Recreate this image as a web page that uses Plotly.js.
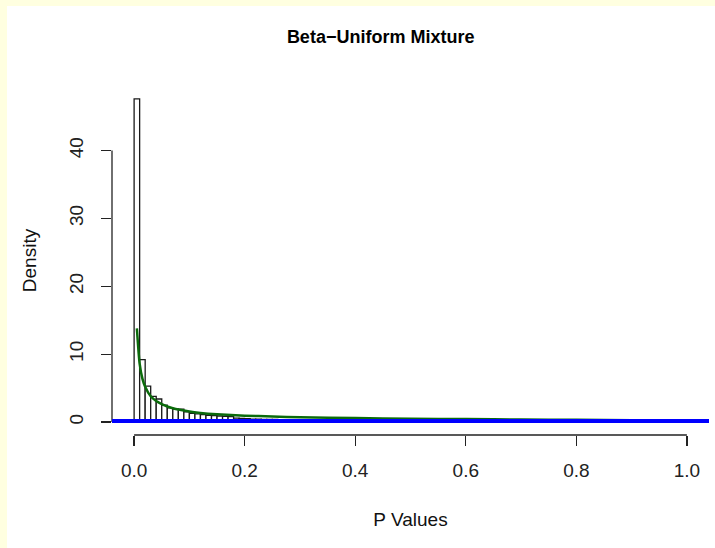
<!DOCTYPE html>
<html>
<head>
<meta charset="utf-8">
<script src="https://cdn.plot.ly/plotly-3.0.1.min.js"></script>
<style>
  html, body { margin: 0; padding: 0; background: #FFFFE0; width: 715px; height: 548px; overflow: hidden; }
  #chart { position: absolute; left: 7px; top: 6px; width: 708px; height: 542px; background: #fff; }
</style>
</head>
<body>
<div id="chart"></div>
<script>
// ---- data ----
const binWidth = 0.01;
const histDensity = [
  47.6, 9.2, 5.3, 3.8, 3.4, 2.5, 2.1, 1.9, 1.9, 1.5,
  1.3, 1.2, 1.1, 1.0, 0.95, 0.9, 0.85, 0.8, 0.6, 0.55,
  0.5, 0.45, 0.45, 0.4, 0.4, 0.38, 0.36, 0.35, 0.35, 0.34,
  0.33, 0.33, 0.32, 0.32, 0.31, 0.3, 0.3, 0.3, 0.29, 0.29,
  0.28, 0.28, 0.28, 0.27, 0.27, 0.27, 0.26, 0.26, 0.26, 0.25,
  0.25, 0.25, 0.25, 0.24, 0.24, 0.24, 0.24, 0.23, 0.23, 0.23,
  0.23, 0.22, 0.22, 0.22, 0.22, 0.22, 0.21, 0.21, 0.21, 0.21,
  0.21, 0.2, 0.2, 0.2, 0.2, 0.2, 0.2, 0.19, 0.19, 0.19,
  0.19, 0.19, 0.19, 0.18, 0.18, 0.18, 0.18, 0.18, 0.18, 0.18,
  0.17, 0.17, 0.17, 0.17, 0.17, 0.17, 0.17, 0.16, 0.16, 0.16
];
const fitP = [0.005, 0.01, 0.015, 0.02, 0.03, 0.04, 0.05, 0.06, 0.07, 0.08, 0.1, 0.12, 0.15, 0.2, 0.25, 0.3, 0.4, 0.5, 0.6, 0.7, 0.8, 0.9, 1.0];
const fitDensity = [13.8, 8.6, 6.4, 5.2, 3.8, 3.1, 2.65, 2.3, 2.05, 1.85, 1.55, 1.35, 1.15, 0.95, 0.82, 0.72, 0.6, 0.5, 0.44, 0.38, 0.33, 0.28, 0.25];
const blueLevel = 0.15;
const xTicks = [0, 0.2, 0.4, 0.6, 0.8, 1.0];
const xTickLabels = ["0.0", "0.2", "0.4", "0.6", "0.8", "1.0"];
const yTicks = [0, 10, 20, 30, 40];
const yTickLabels = ["0", "10", "20", "30", "40"];
const titleText = "Beta\u2212Uniform Mixture";
const xTitle = "P Values";
const yTitle = "Density";

// ---- build ----
const binMids = histDensity.map((_, i) => (i + 0.5) * binWidth);
const axisColor = "#222";
const fontFam = "Liberation Sans, Arial, sans-serif";

const traces = [
  {
    type: "bar", x: binMids, y: histDensity, width: binWidth,
    marker: { color: "rgba(255,255,255,1)", line: { color: "#1a1a1a", width: 1.3 } },
    hoverinfo: "skip"
  },
  {
    type: "scatter", mode: "lines", x: fitP, y: fitDensity,
    line: { color: "#0b6b0b", width: 2.5, shape: "spline", smoothing: 0.6 },
    hoverinfo: "skip"
  }
];

const layout = {
  width: 708, height: 542,
  margin: { l: 105, r: 6, t: 80, b: 113 },
  paper_bgcolor: "#ffffff", plot_bgcolor: "#ffffff",
  showlegend: false,
  bargap: 0,
  title: {
    text: "<b>" + titleText + "</b>",
    font: { family: fontFam, size: 18, color: "#000" },
    x: 0.45, xanchor: "center", xref: "paper",
    y: 1 - 31 / 542, yanchor: "middle", yref: "container"
  },
  xaxis: {
    range: [-0.04, 1.04], showgrid: false, zeroline: false, showline: false,
    tickmode: "array", tickvals: xTicks, ticktext: xTickLabels,
    ticks: "outside", ticklen: 10, tickwidth: 1.3, tickcolor: axisColor,
    tickfont: { family: fontFam, size: 19, color: "#222" },
    ticklabelstandoff: 8,
    title: { text: xTitle, font: { family: fontFam, size: 19, color: "#111" }, standoff: 32 }
  },
  yaxis: {
    range: [-1.9, 49.5], showgrid: false, zeroline: false, showline: false,
    tickmode: "array", tickvals: yTicks, ticktext: yTickLabels,
    ticks: "outside", ticklen: 10, tickwidth: 1.3, tickcolor: axisColor,
    tickangle: -90,
    tickfont: { family: fontFam, size: 19, color: "#222" },
    ticklabelstandoff: 10,
    title: { text: yTitle, font: { family: fontFam, size: 19, color: "#111" }, standoff: 24 }
  },
  shapes: [
    { type: "line", xref: "paper", yref: "y", x0: 0, x1: 0, y0: yTicks[0], y1: yTicks[yTicks.length - 1],
      line: { color: axisColor, width: 1.3 } },
    { type: "line", xref: "x", yref: "paper", x0: xTicks[0], x1: xTicks[xTicks.length - 1], y0: 0, y1: 0,
      line: { color: axisColor, width: 1.3 } },
    { type: "line", xref: "paper", yref: "y", x0: 0, x1: 1, y0: blueLevel, y1: blueLevel,
      line: { color: "#0000ff", width: 4 }, layer: "above" }
  ]
};

Plotly.newPlot("chart", traces, layout, { staticPlot: true, displayModeBar: false });
</script>
</body>
</html>
